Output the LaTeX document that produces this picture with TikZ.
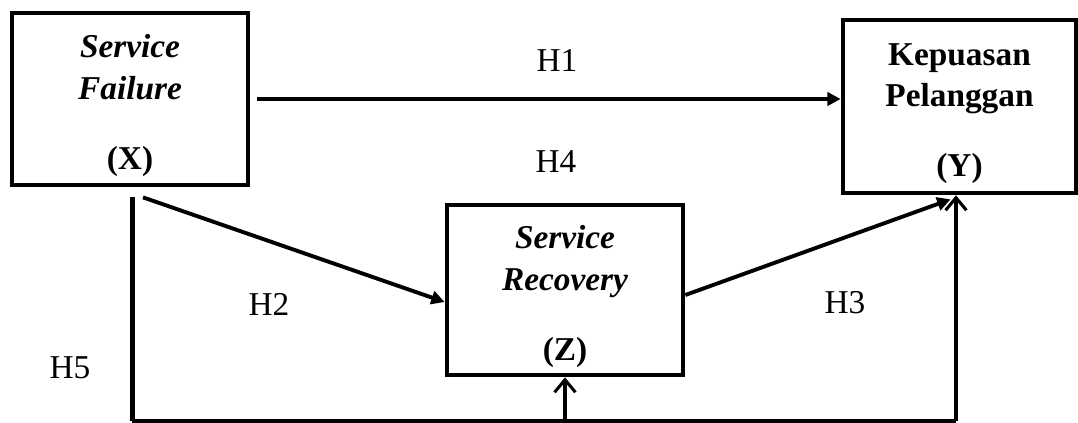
\documentclass[tikz,border=0pt]{standalone}
\usepackage{fontspec}
\setmainfont{Liberation Serif}
\usetikzlibrary{positioning,arrows.meta,calc}
\newcommand{\varname}[1]{\textbf{\textit{#1}}}
\newcommand{\boxtop}{\rule{0pt}{13pt}}

\begin{document}
\begin{tikzpicture}[x=0.36pt, y=-0.36pt,
  every node/.style={font=\fontsize{12}{14.8}\selectfont},
  var/.style={draw, line width=1.7pt, align=center, inner sep=0pt},
  effect/.style={-{Triangle[length=4.8pt,width=4.8pt]}, line width=1.4pt},
  link/.style={line width=1.1pt},
  feed/.style={link, -{Straight Barb[length=4.5pt,width=7.5pt,line width=1.1pt]}}]
  \useasboundingbox (0,0) rectangle (1078,423);

  \node[var, minimum width=84.96pt, minimum height=61.92pt] (fail) at (130,99)
    {\boxtop\varname{Service}\\\varname{Failure}\\[10.4pt]\textbf{(X)}};
  \node[var, minimum width=83.88pt, minimum height=62.28pt] (sat) at (959.5,106.5)
    {\boxtop\textbf{Kepuasan}\\\textbf{Pelanggan}\\[10.4pt]\textbf{(Y)}};
  \node[var, minimum width=84.96pt, minimum height=61.2pt] (rec) at (565,290)
    {\boxtop\varname{Service}\\\varname{Recovery}\\[10.4pt]\textbf{(Z)}};

  \draw[effect] ($(fail.east)+(7,0)$) -- (fail.east -| sat.west);
  \draw[effect] ($(fail.south)+(13,10)$) -- ($(rec.west)+(0,12)$);
  \draw[effect] ($(rec.east)+(0,5)$) -- ($(sat.south)+(-9,4)$);

  \coordinate (h5top) at (132,197);
  \coordinate (h5bot) at (132,421);
  \coordinate (h5end) at (956,421);
  \draw[line width=1.8pt] (h5top) -- (h5bot);
  \draw[link] (h5bot) -- (h5end);
  \draw[feed] (h5end) -- (h5end |- sat.south);
  \draw[feed] (h5bot -| rec.south) -- (rec.south);

  \node (h1) at (557,61) {H1};
  \node (h4) at (556,162) {H4};
  \node (h2) at (269,304) {H2};
  \node (h3) at (845,303) {H3};
  \node (h5) at (70,368) {H5};
\end{tikzpicture}
\end{document}
